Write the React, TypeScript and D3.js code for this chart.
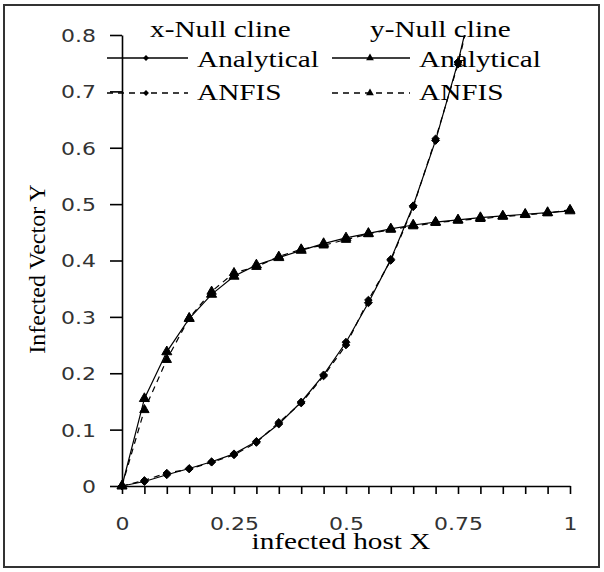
import React, { useEffect, useRef } from 'react';
import { select, scaleLinear, line, axisBottom, axisLeft, symbol, symbolDiamond2, symbolTriangle } from 'd3';

// x grid of the two null clines
const xGrid = [0, 0.05, 0.1, 0.15, 0.2, 0.25, 0.3, 0.35, 0.4, 0.45, 0.5, 0.55, 0.6, 0.65, 0.7, 0.75, 0.8, 0.85, 0.9, 0.95, 1];

// x-Null cline (diamonds) - goes off the top after 0.75
const xNullAnalytical = [0, 0.008, 0.02, 0.031, 0.043, 0.057, 0.079, 0.11, 0.149, 0.197, 0.255, 0.325, 0.402, 0.497, 0.613, 0.752, 0.92];
const xNullAnfis = [0, 0.01, 0.023, 0.03, 0.042, 0.055, 0.077, 0.113, 0.147, 0.195, 0.25, 0.33, 0.4, 0.495, 0.616, 0.748, 0.915];

// y-Null cline (triangles)
const yNullAnalytical = [0, 0.155, 0.238, 0.297, 0.34, 0.372, 0.392, 0.405, 0.418, 0.43, 0.44, 0.448, 0.456, 0.463, 0.468, 0.472, 0.476, 0.479, 0.482, 0.485, 0.488];
const yNullAnfis = [0, 0.135, 0.224, 0.298, 0.345, 0.378, 0.389, 0.407, 0.42, 0.427, 0.437, 0.447, 0.455, 0.461, 0.467, 0.471, 0.474, 0.478, 0.481, 0.484, 0.49];

const yTicks = [0, 0.1, 0.2, 0.3, 0.4, 0.5, 0.6, 0.7, 0.8];
const xLabelled = [0, 0.25, 0.5, 0.75, 1];
const legendTitles = ['x-Null cline', 'y-Null cline'];
const legendLabels = ['Analytical', 'ANFIS'];

function App() {
  const svgRef = useRef<SVGSVGElement>(null);
  const width = 604, height = 572;
  const left = 122, right = 570, top = 35, bottom = 486;
  const stretch = 1.22; // the picture's text is wide
  const serif = '"Liberation Serif", "Times New Roman", serif';
  const sans = '"DejaVu Sans", Verdana, sans-serif';

  useEffect(() => {
    const svg = select(svgRef.current);
    svg.selectAll('*').remove();

    svg.append('rect')
      .attr('x', 4).attr('y', 5).attr('width', 595).attr('height', 562)
      .attr('fill', '#fff').attr('stroke', '#333').attr('stroke-width', 2);

    const x = scaleLinear().domain([0, 1]).range([left, right]);
    const y = scaleLinear().domain([0, 0.8]).range([bottom, top]);

    svg.append('clipPath').attr('id', 'plotclip')
      .append('rect').attr('x', left - 10).attr('y', top).attr('width', right - left + 20).attr('height', bottom - top + 10);

    // axes
    const xAxis = axisBottom(x).tickValues(xGrid).tickSize(8).tickSizeOuter(0)
      .tickFormat((d: any) => (xLabelled.includes(d) ? String(d) : ''));
    const gx = svg.append('g').attr('transform', `translate(0,${bottom})`).call(xAxis);
    gx.selectAll('text')
      .attr('y', 44).attr('dy', 0)
      .attr('transform', `scale(${stretch},1)`)
      .style('font-family', sans).style('font-size', '18px').attr('fill', '#333');

    const yAxis = axisLeft(y).tickValues(yTicks).tickSize(12).tickSizeOuter(0).tickFormat((d: any) => String(d));
    const gy = svg.append('g').attr('transform', `translate(${left},0)`).call(yAxis);
    gy.selectAll('text')
      .attr('x', -26 / stretch).attr('dy', '0.36em')
      .attr('transform', `scale(${stretch},1)`)
      .style('font-family', sans).style('font-size', '18px').attr('fill', '#333');

    [gx, gy].forEach(g => {
      g.select('.domain').attr('stroke', '#000').attr('stroke-width', 1.6);
      g.selectAll('.tick line').attr('stroke', '#000').attr('stroke-width', 1.6);
    });

    // series
    const series = [
      { vals: xNullAnalytical, dash: null, sym: symbolDiamond2, size: 40 },
      { vals: xNullAnfis, dash: '6,5', sym: symbolDiamond2, size: 36 },
      { vals: yNullAnalytical, dash: null, sym: symbolTriangle, size: 44 },
      { vals: yNullAnfis, dash: '6,5', sym: symbolTriangle, size: 38 },
    ];

    const lineGen = line<number>().x((d, i) => x(xGrid[i])).y(d => y(d));
    const plot = svg.append('g').attr('clip-path', 'url(#plotclip)');

    series.forEach(s => {
      plot.append('path')
        .attr('d', lineGen(s.vals))
        .attr('fill', 'none').attr('stroke', '#000').attr('stroke-width', 1.2)
        .attr('stroke-dasharray', s.dash);
      plot.selectAll(null)
        .data(s.vals)
        .enter().append('path')
        .attr('d', symbol().type(s.sym).size(s.size)())
        .attr('transform', (d, i) => `translate(${x(xGrid[i])},${y(d)})`)
        .attr('fill', '#000').attr('stroke', '#000').attr('stroke-width', 1);
    });

    // legend
    const legendCols = [
      { titleX: 150, lineX0: 107, lineX1: 188, markX: 146, textX: 197, sym: symbolDiamond2, size: 22 },
      { titleX: 370, lineX0: 332, lineX1: 410, markX: 370, textX: 419, sym: symbolTriangle, size: 26 },
    ];
    const rowY = [58, 93];
    const rowBase = [67, 100];

    legendCols.forEach((c, ci) => {
      svg.append('text')
        .attr('transform', `translate(${c.titleX},37) scale(${stretch},1)`)
        .style('font-family', serif).style('font-size', '24px').attr('fill', '#000')
        .text(legendTitles[ci]);
      legendLabels.forEach((lab, ri) => {
        svg.append('line')
          .attr('x1', c.lineX0).attr('x2', c.lineX1).attr('y1', rowY[ri]).attr('y2', rowY[ri])
          .attr('stroke', '#000').attr('stroke-width', 1.4)
          .attr('stroke-dasharray', ri === 1 ? '6,5' : null);
        svg.append('path')
          .attr('d', symbol().type(c.sym).size(c.size)())
          .attr('transform', `translate(${c.markX},${rowY[ri]})`)
          .attr('fill', '#000');
        svg.append('text')
          .attr('transform', `translate(${c.textX},${rowBase[ri]}) scale(${stretch},1)`)
          .style('font-family', serif).style('font-size', '24px').attr('fill', '#000')
          .text(lab);
      });
    });

    // axis titles
    svg.append('text')
      .attr('transform', `translate(341,549) scale(${stretch},1)`)
      .attr('text-anchor', 'middle')
      .style('font-family', serif).style('font-size', '24px').attr('fill', '#000')
      .text('infected host X');
    svg.append('text')
      .attr('transform', 'translate(45,269) rotate(-90)')
      .attr('text-anchor', 'middle')
      .style('font-family', serif).style('font-size', '24px').attr('fill', '#000')
      .text('Infected Vector Y');
  }, []);

  return (
    <svg ref={svgRef} width={width} height={height}
      style={{ position: 'absolute', left: 0, top: 0, background: '#fff' }}></svg>
  );
}

export default App;
